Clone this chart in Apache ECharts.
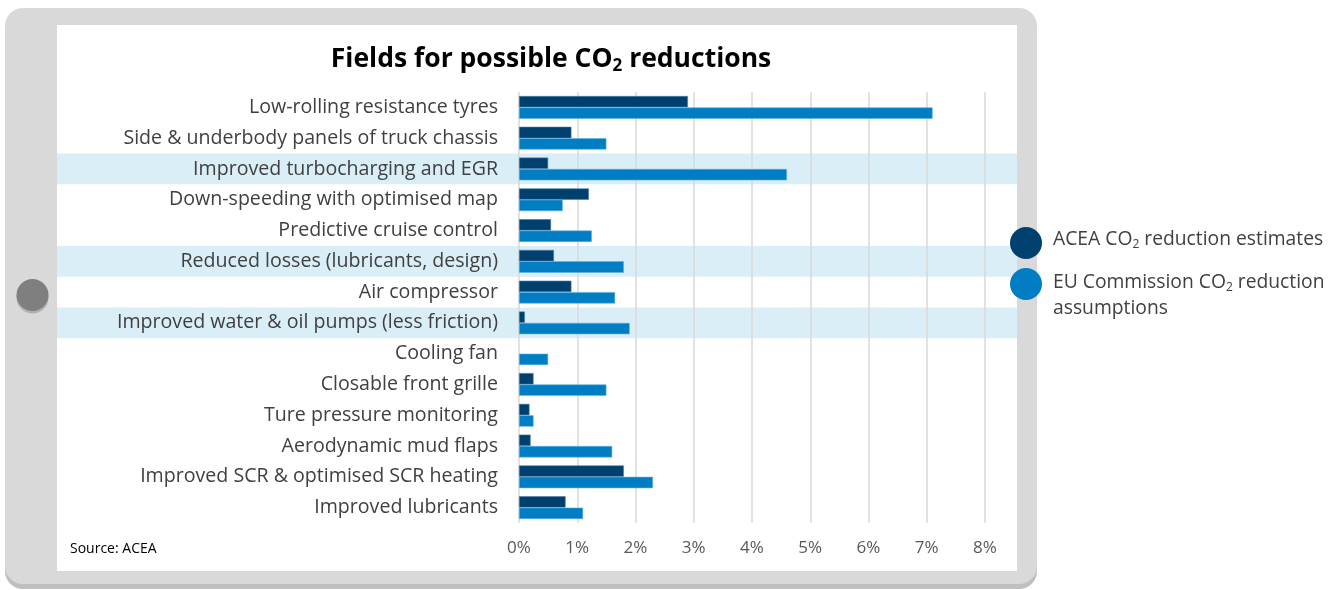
<!DOCTYPE html>
<html><head><meta charset="utf-8">
<script src="https://cdn.jsdelivr.net/npm/echarts@6/dist/echarts.min.js"></script>
<style>html,body{margin:0;padding:0;background:#fff}#c{width:1330px;height:590px}</style>
</head><body><div id="c"></div>
<script>
const categories = [
  'Low-rolling resistance tyres',
  'Side & underbody panels of truck chassis',
  'Improved turbocharging and EGR',
  'Down-speeding with optimised map',
  'Predictive cruise control',
  'Reduced losses (lubricants, design)',
  'Air compressor',
  'Improved water & oil pumps (less friction)',
  'Cooling fan',
  'Closable front grille',
  'Ture pressure monitoring',
  'Aerodynamic mud flaps',
  'Improved SCR & optimised SCR heating',
  'Improved lubricants'
];
const acea = [2.9, 0.9, 0.5, 1.2, 0.55, 0.6, 0.9, 0.1, 0, 0.25, 0.18, 0.2, 1.8, 0.8];
const euCommission = [7.1, 1.5, 4.6, 0.75, 1.25, 1.8, 1.65, 1.9, 0.5, 1.5, 0.25, 1.6, 2.3, 1.1];
const highlighted = ['Improved turbocharging and EGR', 'Reduced losses (lubricants, design)', 'Improved water & oil pumps (less friction)'];
const xTicks = [0, 1, 2, 3, 4, 5, 6, 7, 8];

const FONT = 'Open Sans';
const barData = (arr) => arr.map(v => v === 0 ? {value: v, itemStyle: {borderWidth: 0}} : v);
const chart = echarts.init(document.getElementById('c'), null, {renderer: 'canvas'});
const option = {
  backgroundColor: '#ffffff',
  animation: false,
  title: {
    text: '{b|Fields for possible CO}{s|2}{b| reductions}',
    left: 546, top: 37, textAlign: 'center',
    textStyle: {
      rich: {
        b: {fontFamily: FONT, fontSize: 26.5, fontWeight: 'bold', color: '#000', lineHeight: 34},
        s: {fontFamily: FONT, fontSize: 17, fontWeight: 'bold', color: '#000', lineHeight: 34, padding: [14, 0, 0, 0]}
      }
    }
  },
  grid: {left: 519, right: 345, top: 92, bottom: 67, containLabel: false},
  xAxis: {
    type: 'value', min: 0, max: 8, interval: 1, z: 1,
    axisLine: {show: false}, axisTick: {show: false},
    splitLine: {show: true, lineStyle: {color: '#d9d9d9', width: 1.5}},
    axisLabel: {formatter: v => v + '%', color: '#595959', fontFamily: FONT, fontSize: 17, margin: 17}
  },
  yAxis: {
    type: 'category', data: categories, inverse: true,
    axisLine: {show: false}, axisTick: {show: false},
    axisLabel: {color: '#404040', fontFamily: FONT, fontSize: 19.6, margin: 21}
  },
  graphic: [
    {type: 'rect', z: -100, shape: {x: 5, y: 12, width: 1032, height: 577, r: 18}, style: {fill: '#bfbfbf'}},
    {type: 'rect', z: -99, shape: {x: 5, y: 8, width: 1032, height: 576, r: 18}, style: {fill: '#d9d9d9'}},
    {type: 'rect', z: -98, shape: {x: 57, y: 25, width: 960, height: 546}, style: {fill: '#ffffff'}},
    {type: 'circle', z: -97, shape: {cx: 32.5, cy: 297.5, r: 16}, style: {fill: '#b0b0b0'}},
    {type: 'circle', z: -96, shape: {cx: 32.5, cy: 295, r: 16}, style: {fill: '#7f7f7f'}},
    {type: 'text', z: 10, left: 70, top: 542, style: {text: 'Source: ACEA', fill: '#000', font: '14px ' + FONT}},
    {type: 'circle', z: 50, shape: {cx: 1026, cy: 243, r: 16}, style: {fill: '#00406f'}},
    {type: 'circle', z: 50, shape: {cx: 1026, cy: 284, r: 16}, style: {fill: '#007dc3'}},
    {type: 'text', z: 50, left: 1053, top: 229, style: {
      text: '{t|ACEA CO}{s|2}{t| reduction estimates}',
      rich: {t: {fontFamily: FONT, fontSize: 19.3, fill: '#404040', lineHeight: 26}, s: {fontFamily: FONT, fontSize: 12, fill: '#404040', lineHeight: 26, padding: [10, 0, 0, 0]}}
    }},
    {type: 'text', z: 50, left: 1053, top: 272, style: {
      text: '{t|EU Commission CO}{s|2}{t| reduction}\n{t|assumptions}',
      rich: {t: {fontFamily: FONT, fontSize: 19.3, fill: '#404040', lineHeight: 26}, s: {fontFamily: FONT, fontSize: 12, fill: '#404040', lineHeight: 26, padding: [10, 0, 0, 0]}}
    }}
  ],
  series: [
    {
      type: 'custom', z: 0, silent: true, clip: false,
      data: highlighted.map(c => [0, c]),
      encode: {x: 0, y: 1},
      renderItem: function (params, api) {
        const c = api.coord([0, api.value(1)]);
        const h = api.size([0, 1])[1];
        return {type: 'rect', shape: {x: 57, y: c[1] - h / 2, width: 960, height: h}, style: {fill: '#daeef8'}};
      }
    },
    {
      name: 'ACEA CO2 reduction estimates', type: 'bar', data: barData(acea), z: 3,
      barCategoryGap: '26%', barGap: '0%',
      itemStyle: {color: '#00406f', borderColor: '#4f7fa6', borderWidth: 0.6}
    },
    {
      name: 'EU Commission CO2 reduction assumptions', type: 'bar', data: barData(euCommission), z: 3,
      barCategoryGap: '26%', barGap: '0%',
      itemStyle: {color: '#007dc3', borderColor: '#5fb0e0', borderWidth: 0.6}
    }
  ]
};
chart.setOption(option);
</script>
</body></html>
